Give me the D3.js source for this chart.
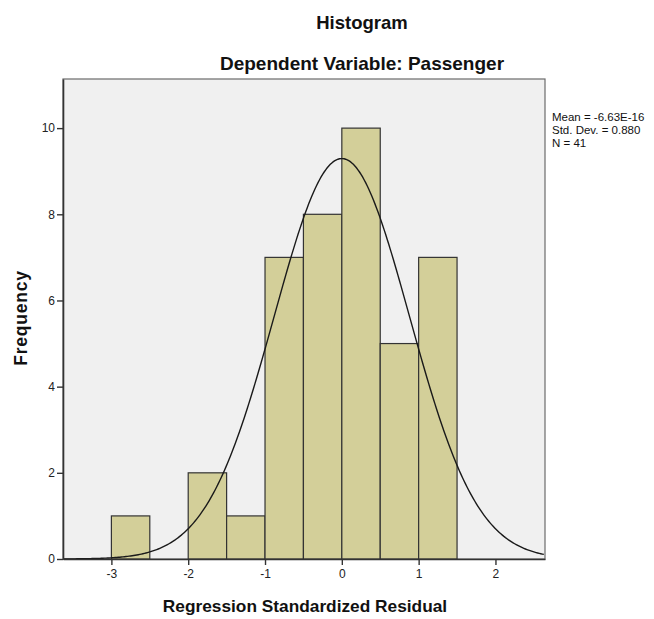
<!DOCTYPE html>
<html>
<head>
<meta charset="utf-8">
<script src="https://cdn.jsdelivr.net/npm/d3@7"></script>
<style>
  body { margin: 0; background: #fff; }
  text { font-family: "Liberation Sans", Arial, sans-serif; }
</style>
</head>
<body>
<div id="vis"></div>
<script>
// bins of width 0.5 and their counts
const BIN_STARTS = [-3, -2.5, -2, -1.5, -1, -0.5, 0, 0.5, 1];
const BIN_COUNTS = [1, 0, 2, 1, 7, 8, 10, 5, 7];
const BIN_WIDTH = 0.5;
const X_TICKS = [-3, -2, -1, 0, 1, 2];
const Y_TICKS = [0, 2, 4, 6, 8, 10];
const MEAN = -6.63e-16;
const SD = 0.880;
const N = 41;
const STATS = ["Mean = -6.63E-16", "Std. Dev. = 0.880", "N = 41"];

const FRAME_WIDTH = 654;
const FRAME_HEIGHT = 619;
const MARGINS = {left: 63, right: 109, top: 79, bottom: 60};
const VIS_WIDTH = FRAME_WIDTH - MARGINS.left - MARGINS.right;
const VIS_HEIGHT = FRAME_HEIGHT - MARGINS.top - MARGINS.bottom;

const FRAME = d3.select("#vis")
                .append("svg")
                .attr("width", FRAME_WIDTH)
                .attr("height", FRAME_HEIGHT);

const X_SCALE = d3.scaleLinear()
                  .domain([-3.63, 2.645])
                  .range([0, VIS_WIDTH]);

const Y_SCALE = d3.scaleLinear()
                  .domain([0, 11.14])
                  .range([VIS_HEIGHT, 0]);

const G = FRAME.append("g")
               .attr("transform", "translate(" + MARGINS.left + "," + MARGINS.top + ")");

// plot background
G.append("rect")
 .attr("width", VIS_WIDTH)
 .attr("height", VIS_HEIGHT)
 .attr("fill", "#f0f0f0")
 .attr("stroke", "#6b6b6b")
 .attr("stroke-width", 1.2);

// bars
const bins = BIN_STARTS.map((s, i) => ({x0: s, x1: s + BIN_WIDTH, n: BIN_COUNTS[i]}))
                       .filter(d => d.n > 0);

G.selectAll(".bar")
 .data(bins)
 .enter()
 .append("rect")
   .attr("class", "bar")
   .attr("x", d => X_SCALE(d.x0))
   .attr("width", d => X_SCALE(d.x1) - X_SCALE(d.x0))
   .attr("y", d => Y_SCALE(d.n))
   .attr("height", d => Y_SCALE(0) - Y_SCALE(d.n))
   .attr("fill", "#d3cf99")
   .attr("stroke", "#333")
   .attr("stroke-width", 1.2);

// fitted normal curve
const xs = d3.range(X_SCALE.domain()[0], X_SCALE.domain()[1] + 0.001, 0.02);
const curve = xs.map(x => [x, N * BIN_WIDTH * Math.exp(-0.5 * ((x - MEAN) / SD) ** 2) / (SD * Math.sqrt(2 * Math.PI))]);

G.append("path")
 .datum(curve)
 .attr("fill", "none")
 .attr("stroke", "#1a1a1a")
 .attr("stroke-width", 1.4)
 .attr("d", d3.line().x(d => X_SCALE(d[0])).y(d => Y_SCALE(d[1])));

// axes
const xAxis = G.append("g")
               .attr("transform", "translate(0," + VIS_HEIGHT + ")")
               .call(d3.axisBottom(X_SCALE).tickValues(X_TICKS).tickFormat(d => String(d))
                       .tickSize(6).tickSizeOuter(0).tickPadding(4));

const yAxis = G.append("g")
               .call(d3.axisLeft(Y_SCALE).tickValues(Y_TICKS).tickFormat(d => String(d))
                       .tickSize(6).tickSizeOuter(0).tickPadding(2));

[xAxis, yAxis].forEach(a => {
  a.select(".domain").attr("stroke", "#333").attr("stroke-width", 1.6);
  a.selectAll(".tick line").attr("stroke", "#333").attr("stroke-width", 1.4);
  a.selectAll(".tick text")
   .attr("font-family", "Liberation Sans, Arial, sans-serif")
   .attr("font-size", "12px")
   .attr("fill", "#222");
});

// titles
FRAME.append("text")
     .attr("x", 362)
     .attr("y", 29)
     .attr("text-anchor", "middle")
     .attr("font-size", "18.5px")
     .attr("font-weight", "bold")
     .attr("fill", "#111")
     .text("Histogram");

FRAME.append("text")
     .attr("x", 362)
     .attr("y", 70)
     .attr("text-anchor", "middle")
     .attr("font-size", "19px")
     .attr("font-weight", "bold")
     .attr("fill", "#111")
     .text("Dependent Variable: Passenger");

FRAME.append("text")
     .attr("x", 305)
     .attr("y", 612)
     .attr("text-anchor", "middle")
     .attr("font-size", "17.3px")
     .attr("font-weight", "bold")
     .attr("fill", "#111")
     .text("Regression Standardized Residual");

FRAME.append("text")
     .attr("transform", "translate(27,318) rotate(-90)")
     .attr("text-anchor", "middle")
     .attr("font-size", "17.5px")
     .attr("font-weight", "bold")
     .attr("letter-spacing", "0.8px")
     .attr("fill", "#111")
     .text("Frequency");

// stats box
FRAME.selectAll(".stat")
     .data(STATS)
     .enter()
     .append("text")
       .attr("class", "stat")
       .attr("x", 552)
       .attr("y", (d, i) => 121 + i * 13)
       .attr("font-size", "11.5px")
       .attr("fill", "#111")
       .text(d => d);
</script>
</body>
</html>
